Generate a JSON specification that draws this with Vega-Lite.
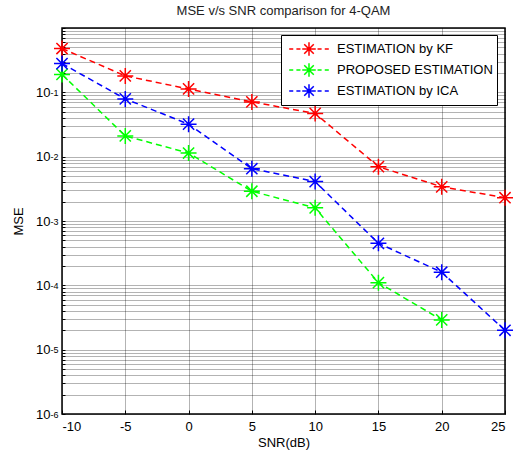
{
  "$schema": "https://vega.github.io/schema/vega-lite/v6.json",
  "width": 443,
  "height": 386,
  "autosize": "none",
  "padding": {"left": 62, "top": 28, "right": 8, "bottom": 43},
  "background": "white",
  "title": {"text": "MSE v/s SNR comparison for 4-QAM", "fontSize": 13, "fontWeight": "normal", "font": "Liberation Sans", "color": "#222", "anchor": "middle", "offset": 10},
  "data": {"values": [
    {"snr": -10, "mse": 0.48, "series": "ESTIMATION by KF"},
    {"snr": -5, "mse": 0.18, "series": "ESTIMATION by KF"},
    {"snr": 0, "mse": 0.113, "series": "ESTIMATION by KF"},
    {"snr": 5, "mse": 0.071, "series": "ESTIMATION by KF"},
    {"snr": 10, "mse": 0.047, "series": "ESTIMATION by KF"},
    {"snr": 15, "mse": 0.007, "series": "ESTIMATION by KF"},
    {"snr": 20, "mse": 0.0034, "series": "ESTIMATION by KF"},
    {"snr": 25, "mse": 0.0023, "series": "ESTIMATION by KF"},
    {"snr": -10, "mse": 0.19, "series": "PROPOSED ESTIMATION"},
    {"snr": -5, "mse": 0.021, "series": "PROPOSED ESTIMATION"},
    {"snr": 0, "mse": 0.0114, "series": "PROPOSED ESTIMATION"},
    {"snr": 5, "mse": 0.0029, "series": "PROPOSED ESTIMATION"},
    {"snr": 10, "mse": 0.0016, "series": "PROPOSED ESTIMATION"},
    {"snr": 15, "mse": 0.00011, "series": "PROPOSED ESTIMATION"},
    {"snr": 20, "mse": 0.000029, "series": "PROPOSED ESTIMATION"},
    {"snr": -10, "mse": 0.28, "series": "ESTIMATION by ICA"},
    {"snr": -5, "mse": 0.079, "series": "ESTIMATION by ICA"},
    {"snr": 0, "mse": 0.032, "series": "ESTIMATION by ICA"},
    {"snr": 5, "mse": 0.0065, "series": "ESTIMATION by ICA"},
    {"snr": 10, "mse": 0.0041, "series": "ESTIMATION by ICA"},
    {"snr": 15, "mse": 0.00045, "series": "ESTIMATION by ICA"},
    {"snr": 20, "mse": 0.00016, "series": "ESTIMATION by ICA"},
    {"snr": 25, "mse": 0.00002, "series": "ESTIMATION by ICA"}
  ]},
  "encoding": {
    "x": {"field": "snr", "type": "quantitative", "scale": {"domain": [-10, 25], "nice": false, "zero": false},
      "axis": {"title": "SNR(dB)", "values": [-10, -5, 0, 5, 10, 15, 20, 25], "grid": true, "tickSize": -4, "labelPadding": 10, "titlePadding": 3, "labelExpr": "toString(datum.value)"}},
    "color": {"field": "series", "type": "nominal",
      "scale": {"domain": ["ESTIMATION by KF", "PROPOSED ESTIMATION", "ESTIMATION by ICA"], "range": ["#ff0000", "#00ff00", "#0000ff"]},
      "legend": {"title": null, "orient": "none", "legendX": 219, "legendY": 7,
         "symbolType": "M-2.2,0L-1.75,0M-1.4,0L-0.95,0M-0.6,0L0.6,0M0.95,0L1.4,0M1.75,0L2.2,0M0,-0.75L0,0.75M-0.53,-0.53L0.53,0.53M-0.53,0.53L0.53,-0.53M-0.75,0L0.75,0",
         "symbolSize": 324, "symbolStrokeWidth": 1.5, "symbolFillColor": "transparent", "symbolOpacity": 1,
         "symbolOffset": 14, "labelOffset": 18,
         "labelFontSize": 13, "labelFont": "Liberation Sans", "labelColor": "#000", "labelLimit": 300,
         "fillColor": "white", "strokeColor": "#000", "padding": 4, "rowPadding": 1}}
  },
  "layer": [
    {"mark": {"type": "line", "strokeDash": [6, 4], "strokeWidth": 1.5},
     "encoding": {"y": {"field": "mse", "type": "quantitative", "scale": {"type": "log", "domain": [0.000001, 1], "nice": false},
      "axis": {"orient": "left", "title": "MSE", "titlePadding": 10,
        "values": [0.000001,0.000002,0.000003,0.000004,0.000005,0.000006,0.000007,0.000008,0.000009,
                   0.00001,0.00002,0.00003,0.00004,0.00005,0.00006,0.00007,0.00008,0.00009,
                   0.0001,0.0002,0.0003,0.0004,0.0005,0.0006,0.0007,0.0008,0.0009,
                   0.001,0.002,0.003,0.004,0.005,0.006,0.007,0.008,0.009,
                   0.01,0.02,0.03,0.04,0.05,0.06,0.07,0.08,0.09,
                   0.1,0.2,0.3,0.4,0.5,0.6,0.7,0.8,0.9,1],
        "grid": true, "tickSize": -3, "labelPadding": 15, "labelFontSize": 13,
        "labelExpr": "abs(datum.value/1e-6-1)<1e-6 || abs(datum.value/1e-5-1)<1e-6 || abs(datum.value/1e-4-1)<1e-6 || abs(datum.value/1e-3-1)<1e-6 || abs(datum.value/1e-2-1)<1e-6 || abs(datum.value/1e-1-1)<1e-6 ? '10' : ''"}}}},
    {"mark": {"type": "point", "filled": false, "size": 256, "strokeWidth": 1.5, "opacity": 1,
       "shape": "M0,-1L0,1M-0.7,-0.7L0.7,0.7M-0.7,0.7L0.7,-0.7M-1,0L1,0"},
     "encoding": {"y": {"field": "mse", "type": "quantitative", "scale": {"type": "log", "domain": [0.000001, 1], "nice": false},
      "axis": {"orient": "left", "title": null, "values": [0.000001, 0.00001, 0.0001, 0.001, 0.01, 0.1],
        "grid": false, "ticks": false, "labelPadding": 4, "labelFontSize": 9, "labelDy": -6,
        "labelExpr": "abs(datum.value/1e-6-1)<1e-6 ? '-6' : abs(datum.value/1e-5-1)<1e-6 ? '-5' : abs(datum.value/1e-4-1)<1e-6 ? '-4' : abs(datum.value/1e-3-1)<1e-6 ? '-3' : abs(datum.value/1e-2-1)<1e-6 ? '-2' : '-1'"}}}}
  ],
  "resolve": {"axis": {"y": "independent"}},
  "config": {
    "view": {"stroke": "#000", "strokeWidth": 1.5},
    "font": "Liberation Sans",
    "axis": {"domain": false, "gridColor": "#000", "gridDash": [1, 1], "gridOpacity": 0.6, "gridWidth": 1,
      "tickColor": "#000", "labelFontSize": 13, "labelColor": "#000", "labelFont": "Liberation Sans",
      "titleFontSize": 13, "titleFontWeight": "normal", "titleColor": "#000", "titleFont": "Liberation Sans"}
  }
}
